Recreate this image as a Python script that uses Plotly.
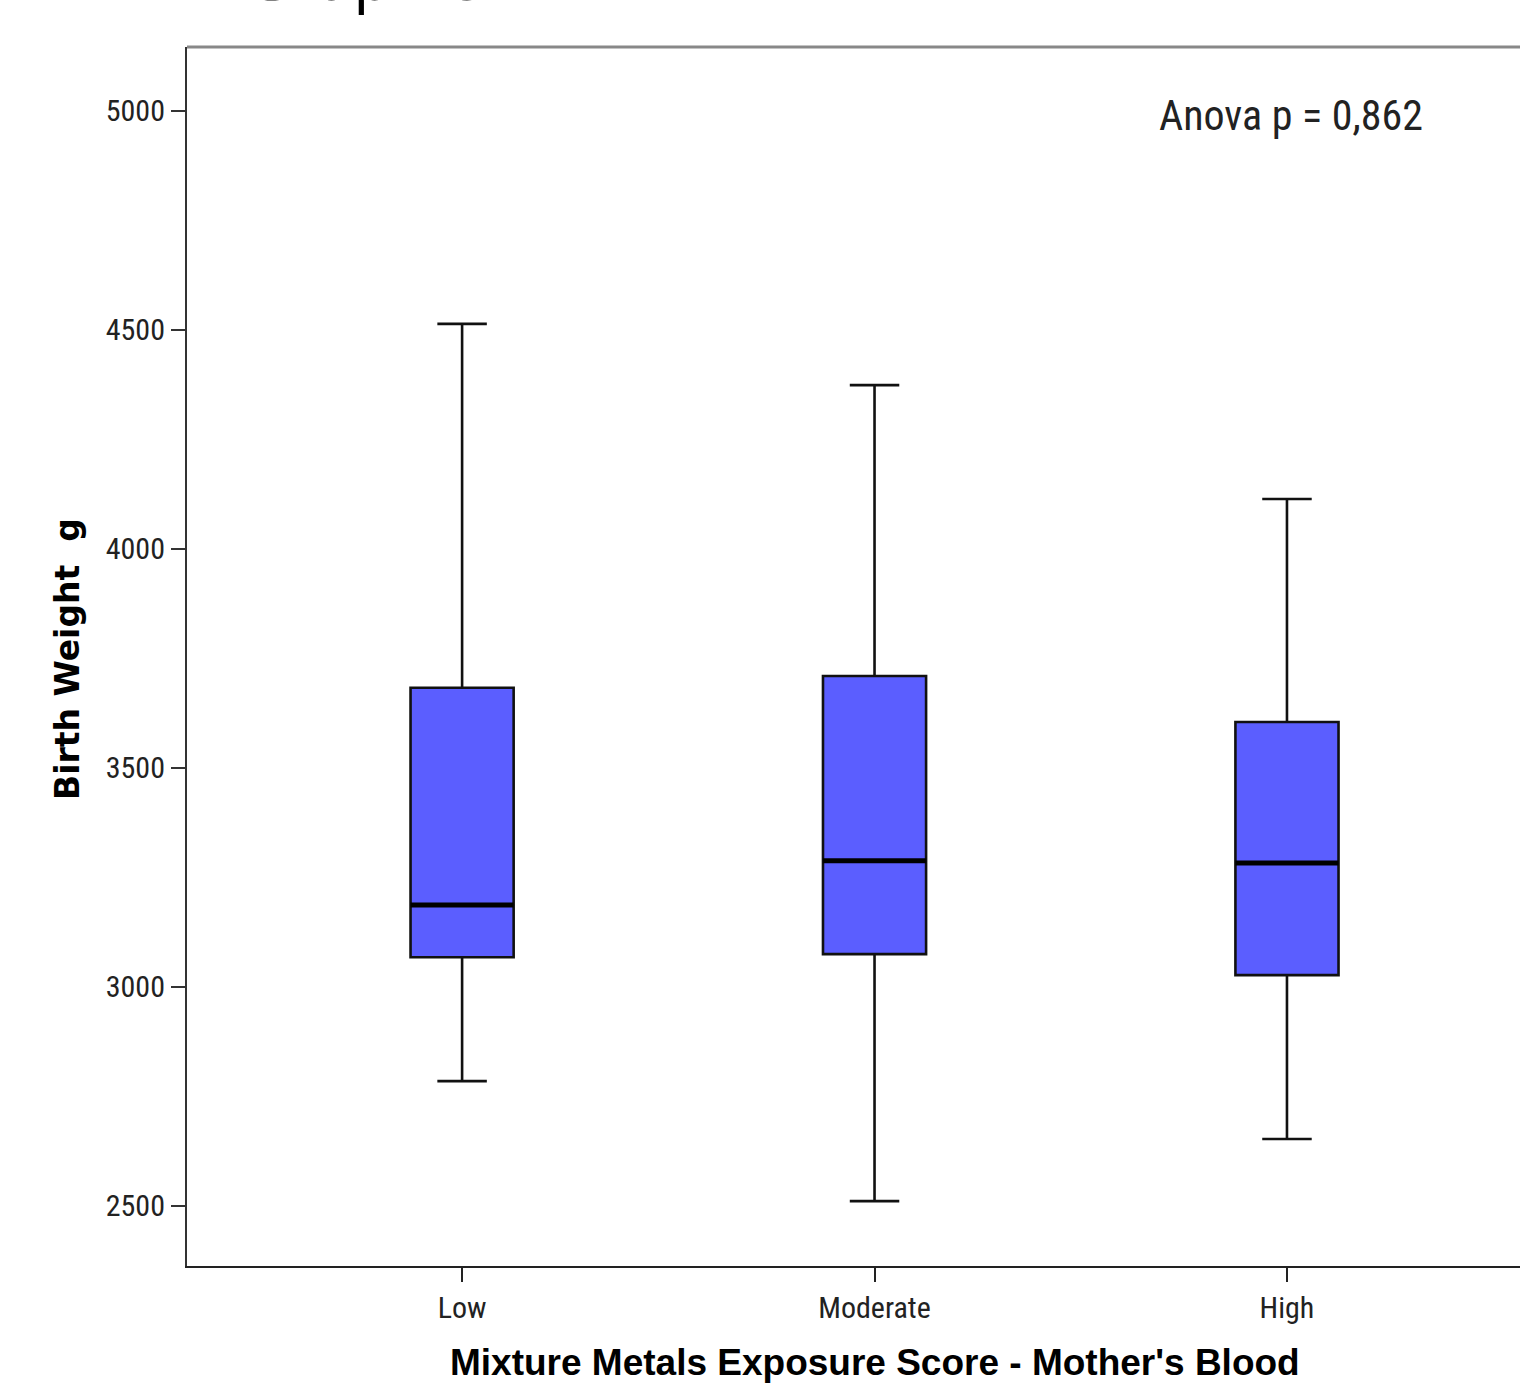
import plotly.graph_objects as go

categories = ["Low", "Moderate", "High"]
lower_whisker = [2785, 2511, 2653]
q1_values = [3068, 3075, 3027]
medians = [3187, 3288, 3283]
q3_values = [3683, 3710, 3605]
upper_whisker = [4514, 4374, 4114]
y_ticks = [2500, 3000, 3500, 4000, 4500, 5000]
anova_text = "Anova p = 0,862"

xpos = list(range(len(categories)))
box_w = 0.25

W, H = 1520, 1383
L, T, B = 187, 47, 117
plot_w = W - L
plot_h = H - T - B

fig = go.Figure()
fig.add_trace(go.Box(
    x=xpos, q1=q1_values, median=medians, q3=q3_values,
    lowerfence=lower_whisker, upperfence=upper_whisker,
    width=box_w, whiskerwidth=0.48,
    fillcolor="#5b5eff", line=dict(color="#111111", width=2.6),
    boxpoints=False, showlegend=False, hoverinfo="skip",
))
for i, m in zip(xpos, medians):
    fig.add_trace(go.Scatter(
        x=[i - box_w / 2, i + box_w / 2], y=[m, m], mode="lines",
        line=dict(color="black", width=5), showlegend=False, hoverinfo="skip",
    ))

narrow = "Liberation Sans Narrow, Arial Narrow, Roboto Condensed, Liberation Sans, sans-serif"
tick_font = dict(family=narrow, size=30, color="#222222")

fig.update_layout(
    width=W, height=H,
    margin=dict(l=L, r=0, t=T, b=B),
    paper_bgcolor="white", plot_bgcolor="white",
    xaxis=dict(
        range=[-0.667, 2.565], tickmode="array", tickvals=xpos, ticktext=categories,
        showgrid=False, zeroline=False, showline=True, linecolor="#222222", linewidth=2,
        ticks="outside", ticklen=14, tickwidth=2, tickcolor="#222222",
        tickfont=tick_font,
    ),
    yaxis=dict(
        range=[2363, 5146], tickmode="array", tickvals=y_ticks,
        ticktext=[str(t) for t in y_ticks],
        showgrid=False, zeroline=False, showline=True, linecolor="#333333", linewidth=2,
        ticks="outside", ticklen=14, tickwidth=2, tickcolor="#333333",
        tickfont=tick_font,
    ),
    shapes=[dict(type="line", xref="paper", yref="paper", x0=0, x1=1, y0=1, y1=1,
                 line=dict(color="#888888", width=3))],
    annotations=[
        dict(text=anova_text, xref="x", yref="y", x=2.01, y=4989,
             xanchor="center", yanchor="middle", showarrow=False,
             font=dict(family=narrow, size=42, color="#222222")),
        dict(text="Mixture Metals Exposure Score - Mother's Blood", xref="x", yref="paper",
             x=1, y=-(1362 - (H - B)) / plot_h, xanchor="center", yanchor="middle", showarrow=False,
             font=dict(family="Liberation Sans, Arial, sans-serif", size=37, color="black",
                       weight="bold")),
        dict(text="Birth Weight  g", xref="paper", yref="paper", textangle=-90,
             x=(67 - L) / plot_w, y=(H - B - 659) / plot_h, xanchor="center", yanchor="middle",
             showarrow=False,
             font=dict(family="DejaVu Sans, Liberation Sans, sans-serif", size=33, color="black",
                       weight="bold")),
        dict(text="Graphic 2", xref="paper", yref="paper", x=(243 - L) / plot_w,
             y=1 + (T - 21) / plot_h,
             xanchor="left", yanchor="bottom", showarrow=False,
             font=dict(family="Open Sans, Noto Sans, sans-serif", size=64, color="black")),
    ],
)

fig.write_html("out.html", config={"displayModeBar": False},
               post_script="document.body.style.margin='0';document.body.style.overflow='hidden';")
